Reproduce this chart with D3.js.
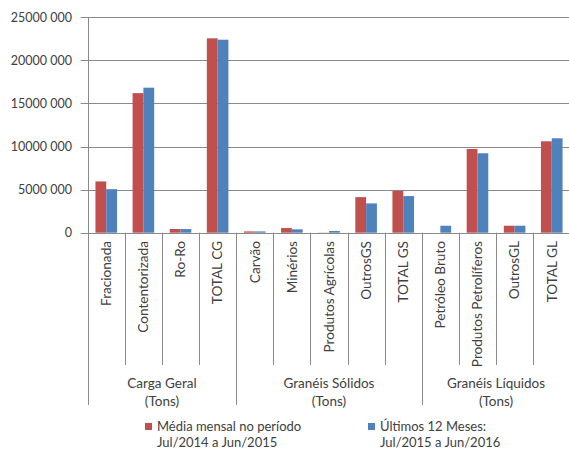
<!DOCTYPE html>
<html>
<head>
<meta charset="utf-8">
<script src="https://cdn.jsdelivr.net/npm/d3@7"></script>
<style>
  body { margin: 0; background: #fff; }
  svg { font-family: Lato, "Open Sans", sans-serif; }
  .tick-label { fill: #404040; font-size: 12.5px; }
  .cat-label { fill: #404040; font-size: 13.6px; }
  .grp-label { fill: #404040; font-size: 13.5px; }
  .legend-text { fill: #404040; font-size: 13px; }
</style>
</head>
<body>
<div id="vis"></div>
<script>
// categories and groups
var categories = ["Fracionada", "Contentorizada", "Ro-Ro", "TOTAL CG",
    "Carvão", "Minérios", "Produtos Agrícolas", "OutrosGS", "TOTAL GS",
    "Petróleo Bruto", "Produtos Petrolíferos", "OutrosGL", "TOTAL GL"];
var groups = ["Carga Geral", "Granéis Sólidos", "Granéis Líquidos"];
var groupSizes = [4, 5, 4];

// values (tons)
var media2014 = [5950000, 16200000, 430000, 22560000,
    150000, 540000, 20000, 4130000, 4850000,
    0, 9720000, 810000, 10610000];
var ultimos12 = [5050000, 16830000, 420000, 22400000,
    150000, 390000, 200000, 3400000, 4250000,
    810000, 9220000, 810000, 10960000];

var seriesNames = [["Média mensal no período", "Jul/2014 a Jun/2015"],
                   ["Últimos 12 Meses:", "Jul/2015 a Jun/2016"]];
var seriesColors = ["#C0504D", "#4F81BD"];

var tickValues = [0, 5000000, 10000000, 15000000, 20000000, 25000000];
var tickLabels = ["0", "5000 000", "10000 000", "15000 000", "20000 000", "25000 000"];

var width = 569, height = 450;
var margin = { top: 17.3, left: 87.7, right: -1.3, bottom: 217.3 };
var plotW = width - margin.left - margin.right;
var zeroY = 232.7;

var svg = d3.select('#vis')
    .append('svg')
    .attr('width', width)
    .attr('height', height);

var x_scale = d3.scaleBand()
    .domain(categories)
    .range([margin.left, margin.left + plotW]);

var x_inner = d3.scaleBand()
    .domain([0, 1])
    .range([0, 21.6]);

var y_scale = d3.scaleLinear()
    .domain([0, 25000000])
    .range([zeroY, margin.top]);

var grid = '#898989';

// gridlines + ticks
svg.selectAll('.grid')
    .data(tickValues)
    .enter()
    .append('line')
    .attr('x1', margin.left - 7)
    .attr('x2', width + 5)
    .attr('y1', function(d) { return Math.round(y_scale(d)) + 0.5; })
    .attr('y2', function(d) { return Math.round(y_scale(d)) + 0.5; })
    .attr('stroke', grid)
    .attr('stroke-width', 1);

svg.selectAll('.tick-label')
    .data(tickValues)
    .enter()
    .append('text')
    .attr('class', 'tick-label')
    .attr('x', 72)
    .attr('y', function(d) { return y_scale(d); })
    .attr('dy', '0.35em')
    .attr('text-anchor', 'end')
    .text(function(d, i) { return tickLabels[i]; });

// bars
var bw = x_inner.bandwidth();
var offset = (x_scale.bandwidth() - 21.6) / 2;
[media2014, ultimos12].forEach(function(vals, s) {
    svg.selectAll('.bar' + s)
        .data(categories)
        .enter()
        .append('rect')
        .attr('class', 'bar' + s)
        .attr('x', function(d) { return x_scale(d) + offset + x_inner(s); })
        .attr('width', bw)
        .attr('y', function(d, i) { return y_scale(vals[i]); })
        .attr('height', function(d, i) { return zeroY - y_scale(vals[i]); })
        .attr('fill', seriesColors[s]);
});

// y axis line
svg.append('line')
    .attr('x1', Math.round(margin.left) + 0.5)
    .attr('x2', Math.round(margin.left) + 0.5)
    .attr('y1', margin.top)
    .attr('y2', 405)
    .attr('stroke', grid);

// category separators
var groupStarts = [];
var acc = 0;
groupSizes.forEach(function(n) { groupStarts.push(acc); acc += n; });

for (var i = 1; i <= categories.length; i++) {
    var isGroup = groupStarts.indexOf(i) >= 0 || i == categories.length;
    var xx = Math.round(margin.left + i * x_scale.step()) + 0.5;
    svg.append('line')
        .attr('x1', xx).attr('x2', xx)
        .attr('y1', zeroY)
        .attr('y2', isGroup ? 405 : 365)
        .attr('stroke', grid);
}

// category labels
svg.selectAll('.cat-label')
    .data(categories)
    .enter()
    .append('text')
    .attr('class', 'cat-label')
    .attr('transform', function(d) {
        return 'translate(' + (x_scale(d) + x_scale.bandwidth() / 2) + ',241) rotate(-90)';
    })
    .attr('dy', '0.35em')
    .attr('text-anchor', 'end')
    .text(function(d) { return d; });

// group labels
groups.forEach(function(g, k) {
    var x0 = x_scale(categories[groupStarts[k]]);
    var cx = x0 + groupSizes[k] * x_scale.step() / 2;
    svg.append('text')
        .attr('class', 'grp-label')
        .attr('x', cx).attr('y', 383)
        .attr('dy', '0.35em')
        .attr('text-anchor', 'middle')
        .text(g);
    svg.append('text')
        .attr('class', 'grp-label')
        .attr('x', cx).attr('y', 401)
        .attr('dy', '0.35em')
        .attr('text-anchor', 'middle')
        .text('(Tons)');
});

// legend
var legendX = [145, 368];
seriesNames.forEach(function(lines, s) {
    svg.append('rect')
        .attr('x', legendX[s]).attr('y', 423)
        .attr('width', 7).attr('height', 7)
        .attr('fill', seriesColors[s]);
    svg.append('text')
        .attr('class', 'legend-text')
        .attr('x', legendX[s] + 12).attr('y', 426)
        .attr('dy', '0.35em')
        .text(lines[0]);
    svg.append('text')
        .attr('class', 'legend-text')
        .attr('x', legendX[s] + 12).attr('y', 442)
        .attr('dy', '0.35em')
        .text(lines[1]);
});
</script>
</body>
</html>
